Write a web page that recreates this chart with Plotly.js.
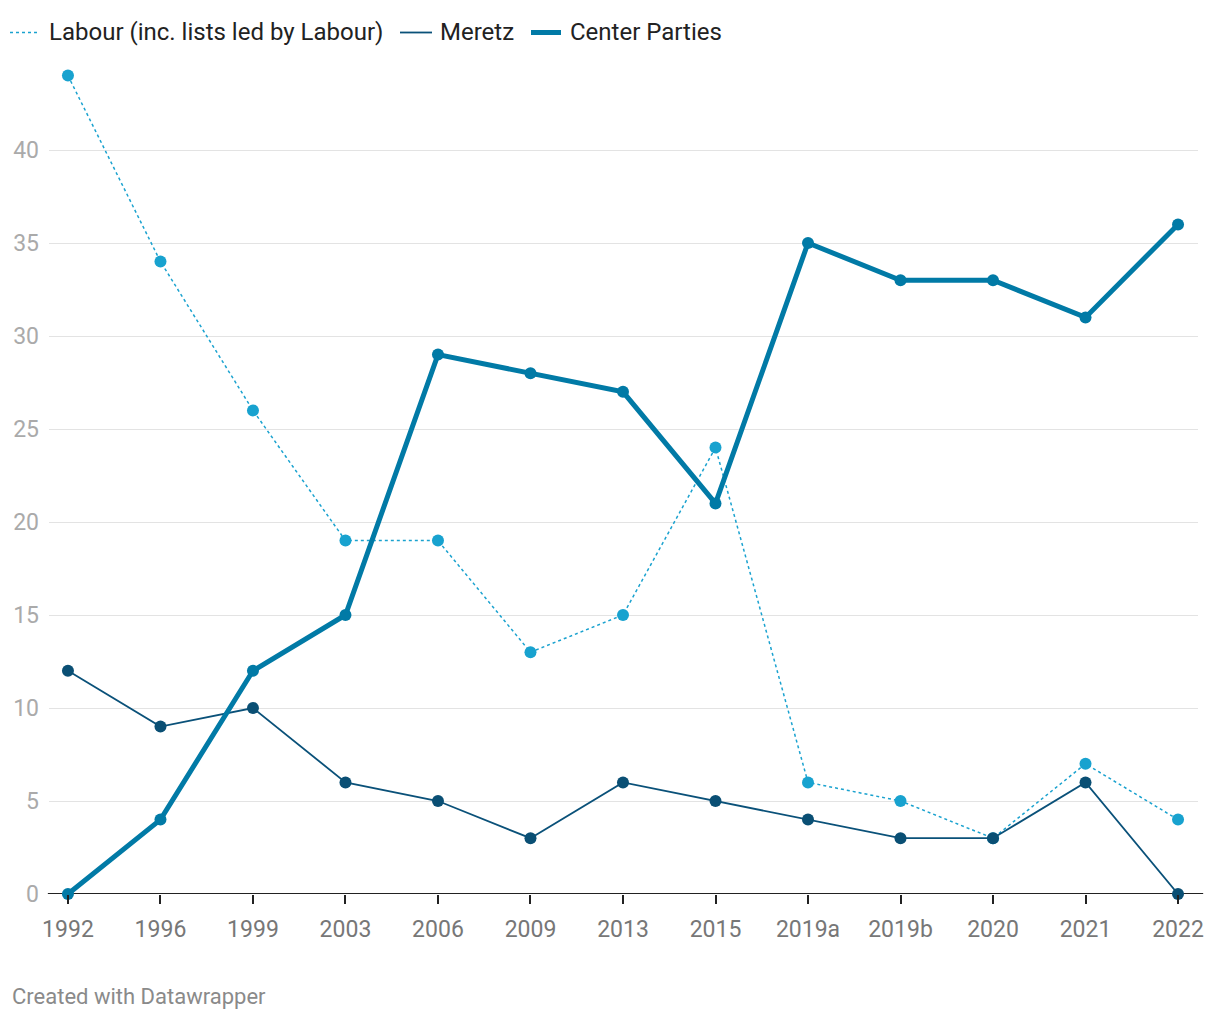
<!DOCTYPE html>
<html><head><meta charset="utf-8">
<script src="https://cdn.plot.ly/plotly-3.0.1.min.js"></script>
<style>html,body{margin:0;padding:0;background:#fff;}#chart{width:1220px;height:1020px;}</style>
</head><body><div id="chart"></div>
<script>
const elections = ["1992","1996","1999","2003","2006","2009","2013","2015","2019a","2019b","2020","2021","2022"];
const labour = [44,34,26,19,19,13,15,24,6,5,3,7,4];
const meretz = [12,9,10,6,5,3,6,5,4,3,3,6,0];
const center = [0,4,12,15,29,28,27,21,35,33,33,31,36];
const yTicks = [0,5,10,15,20,25,30,35,40];
const seriesNames = ["Labour (inc. lists led by Labour)", "Meretz", "Center Parties"];

const font = "Roboto, 'Noto Sans', sans-serif";
const lineStyles = [
  {color: "#1aa2cf", width: 1.5, dash: "dot"},
  {color: "#0a5179", width: 1.8},
  {color: "#017aa6", width: 5}
];
const markerColors = ["#18a2cf", "#0a4f74", "#017aa6"];
const data = [labour, meretz, center];

const traces = data.map((vals, i) => ({
  x: elections, y: vals, name: seriesNames[i], type: "scatter", mode: "lines+markers",
  line: lineStyles[i], marker: {color: markerColors[i], size: 12}, cliponaxis: false, showlegend: false
}));

// legend layout (pixel positions converted to paper coords)
const L = 49, W = 1149, B = 894, H = 837;
const px = v => (v - L) / W;
const legendY = (B - 32.5) / H;
const legendItems = [
  {sym: [10, 38], text: 50},
  {sym: [400, 432], text: 441},
  {sym: [531, 561], text: 571}
];
const shapes = [
  {type: "line", xref: "paper", yref: "y", x0: -0.001, x1: 1.0045, y0: 0, y1: 0,
   line: {color: "#222", width: 2}, layer: "below"}
];
const annotations = [
  {text: "Created with Datawrapper", xref: "paper", yref: "paper", x: -0.034, y: -0.123,
   xanchor: "left", yanchor: "middle", showarrow: false, font: {size: 22, color: "#8a8a8a", family: font}}
];
legendItems.forEach((it, i) => {
  shapes.push({type: "line", xref: "paper", yref: "paper", x0: px(it.sym[0]), x1: px(it.sym[1]),
    y0: legendY, y1: legendY, line: lineStyles[i]});
  annotations.push({text: seriesNames[i], xref: "paper", yref: "paper", x: px(it.text - 3), y: legendY,
    xanchor: "left", yanchor: "middle", showarrow: false, font: {size: 24, color: "#222", family: font}});
});

const layout = {
  width: 1220, height: 1020,
  margin: {l: 49, r: 22, t: 57, b: 126},
  paper_bgcolor: "#fff", plot_bgcolor: "#fff",
  font: {family: font, color: "#222"},
  showlegend: false,
  xaxis: {type: "category", range: [-0.205, 12.216], showgrid: false, zeroline: false,
    showline: false, ticks: "outside", ticklen: 9, tickwidth: 2, tickcolor: "#222",
    ticklabelstandoff: 5,
    tickfont: {size: 23, color: "#777", family: font}, fixedrange: true},
  yaxis: {range: [0, 45], tickvals: yTicks, ticktext: yTicks.map(String), showgrid: true,
    gridcolor: "#e3e3e3", gridwidth: 1, zeroline: false, showline: false, ticks: "",
    ticklabelstandoff: 9, tickfont: {size: 23, color: "#aaa", family: font}, fixedrange: true},
  shapes: shapes,
  annotations: annotations
};
Plotly.newPlot("chart", traces, layout, {displayModeBar: false, staticPlot: true});
</script></body></html>
